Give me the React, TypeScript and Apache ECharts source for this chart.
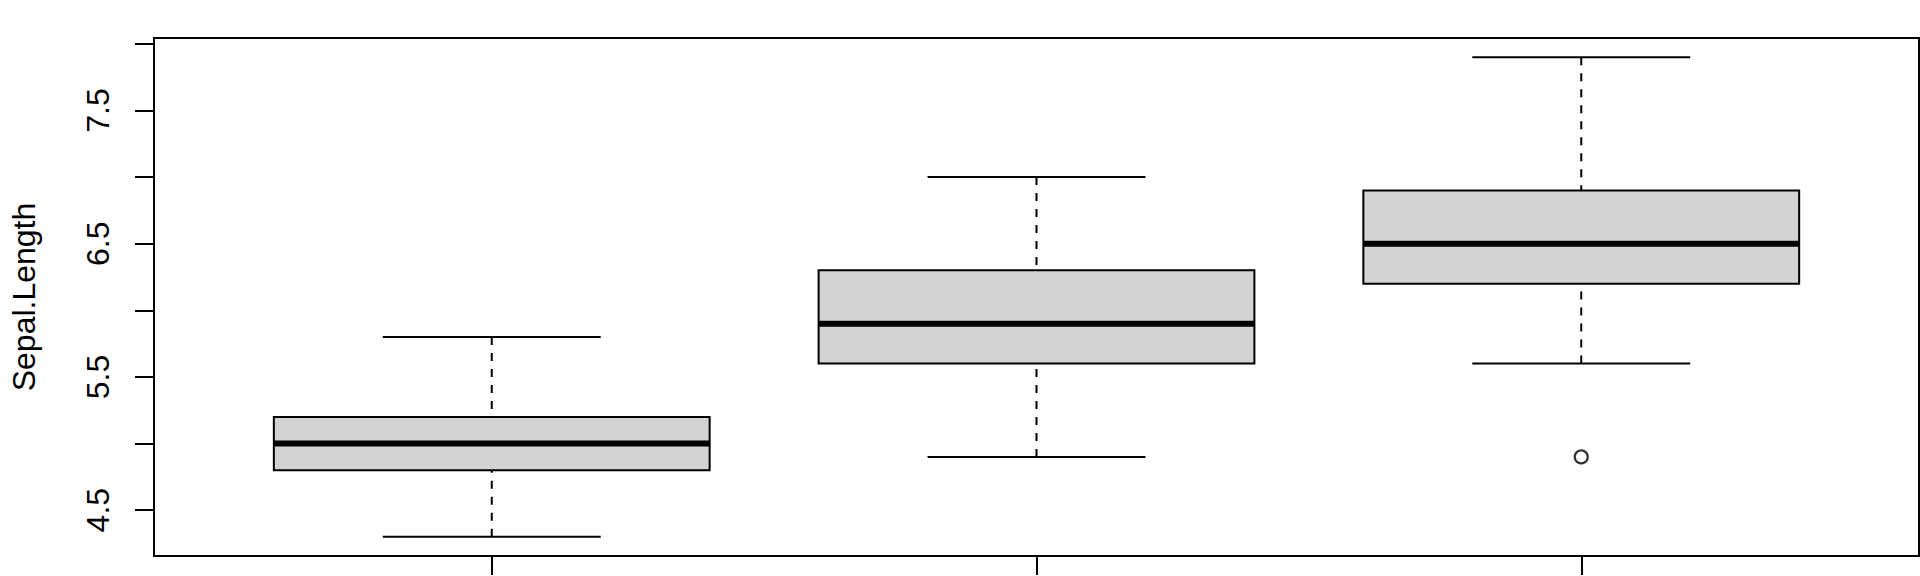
import React, { useEffect, useRef } from "react";
import * as echarts from "echarts";

// ---- data (iris Sepal.Length by Species) ----
const species = ["setosa", "versicolor", "virginica"];
const positions = [1, 2, 3];
const whiskerLow = [4.3, 4.9, 5.6];
const q1 = [4.8, 5.6, 6.2];
const median = [5.0, 5.9, 6.5];
const q3 = [5.2, 6.3, 6.9];
const whiskerHigh = [5.8, 7.0, 7.9];
const outlierPos = [3];
const outlierVal = [4.9];

// axis ticks / labels
const yTickValues = [4.5, 5.0, 5.5, 6.0, 6.5, 7.0, 7.5, 8.0];
const yLabelValues = [4.5, 5.5, 6.5, 7.5];
const xTickValues = [1, 2, 3];
const yTitle = "Sepal.Length";

const FONT = "'Liberation Sans', Arial, Helvetica, sans-serif";

export default function App() {
  const ref = useRef<HTMLDivElement>(null);

  useEffect(() => {
    document.body.style.margin = "0";
    if (!ref.current) return;
    const chart = echarts.init(ref.current, null, { renderer: "svg" });

    const boxData = positions.map((p, i) => [
      p,
      whiskerLow[i],
      q1[i],
      median[i],
      q3[i],
      whiskerHigh[i],
    ]);

    const renderItem = (params: any, api: any) => {
      const x = api.value(0);
      const lo = api.value(1);
      const b1 = api.value(2);
      const md = api.value(3);
      const b3 = api.value(4);
      const hi = api.value(5);
      const halfBox = 0.4;
      const halfCap = 0.2;
      const pLo = api.coord([x, lo]);
      const pB1 = api.coord([x, b1]);
      const pMd = api.coord([x, md]);
      const pB3 = api.coord([x, b3]);
      const pHi = api.coord([x, hi]);
      const boxL = api.coord([x - halfBox, md])[0];
      const boxR = api.coord([x + halfBox, md])[0];
      const capL = api.coord([x - halfCap, md])[0];
      const capR = api.coord([x + halfCap, md])[0];
      const lineStyle = { stroke: "#000", lineWidth: 2, fill: null };
      const dashStyle = { stroke: "#000", lineWidth: 2, lineDash: [8, 8], fill: null };
      return {
        type: "group",
        children: [
          {
            type: "line",
            shape: { x1: pLo[0], y1: pLo[1], x2: pB1[0], y2: pB1[1] },
            style: dashStyle,
          },
          {
            type: "line",
            shape: { x1: pHi[0], y1: pHi[1], x2: pB3[0], y2: pB3[1] },
            style: dashStyle,
          },
          {
            type: "line",
            shape: { x1: capL, y1: pLo[1], x2: capR, y2: pLo[1] },
            style: lineStyle,
          },
          {
            type: "line",
            shape: { x1: capL, y1: pHi[1], x2: capR, y2: pHi[1] },
            style: lineStyle,
          },
          {
            type: "rect",
            shape: { x: boxL, y: pB3[1], width: boxR - boxL, height: pB1[1] - pB3[1] },
            style: { fill: "#D3D3D3", stroke: "#000", lineWidth: 2 },
          },
          {
            type: "line",
            shape: { x1: boxL, y1: pMd[1], x2: boxR, y2: pMd[1] },
            style: { stroke: "#000", lineWidth: 6, fill: null },
          },
        ],
      };
    };

    const option: any = {
      animation: false,
      backgroundColor: "#ffffff",
      grid: {
        left: 153,
        top: 38,
        width: 1766,
        height: 518,
        show: true,
        borderColor: "#000",
        borderWidth: 2,
        backgroundColor: "transparent",
        containLabel: false,
      },
      xAxis: {
        type: "value",
        min: 0.38,
        max: 3.62,
        axisLine: { show: false },
        splitLine: { show: false },
        axisTick: {
          show: true,
          customValues: xTickValues,
          length: 19,
          lineStyle: { color: "#000", width: 2 },
        },
        axisLabel: {
          show: false,
          customValues: xTickValues,
          formatter: (v: number) => species[Math.round(v) - 1] ?? "",
        },
      },
      yAxis: {
        type: "value",
        min: 4.156,
        max: 8.044,
        name: yTitle,
        nameLocation: "middle",
        nameGap: 114,
        nameTextStyle: { fontFamily: FONT, fontSize: 32, color: "#000" },
        axisLine: { show: false },
        splitLine: { show: false },
        axisTick: {
          show: true,
          customValues: yTickValues,
          length: 19,
          lineStyle: { color: "#000", width: 2 },
        },
        axisLabel: {
          show: true,
          customValues: yLabelValues,
          rotate: 90,
          margin: 40,
          fontFamily: FONT,
          fontSize: 32,
          color: "#000",
          formatter: (v: number) => v.toFixed(1),
        },
      },
      series: [
        {
          type: "custom",
          name: "boxes",
          renderItem,
          data: boxData,
          encode: { x: 0, y: [1, 2, 3, 4, 5] },
          clip: false,
          z: 2,
        },
        {
          type: "scatter",
          name: "outliers",
          data: outlierPos.map((p, i) => [p, outlierVal[i]]),
          symbol: "circle",
          symbolSize: 13,
          itemStyle: { color: "transparent", borderColor: "#000", borderWidth: 2.2 },
          z: 3,
        },
      ],
    };

    chart.setOption(option);
    return () => chart.dispose();
  }, []);

  return <div ref={ref} style={{ width: 1920, height: 576 }} />;
}
